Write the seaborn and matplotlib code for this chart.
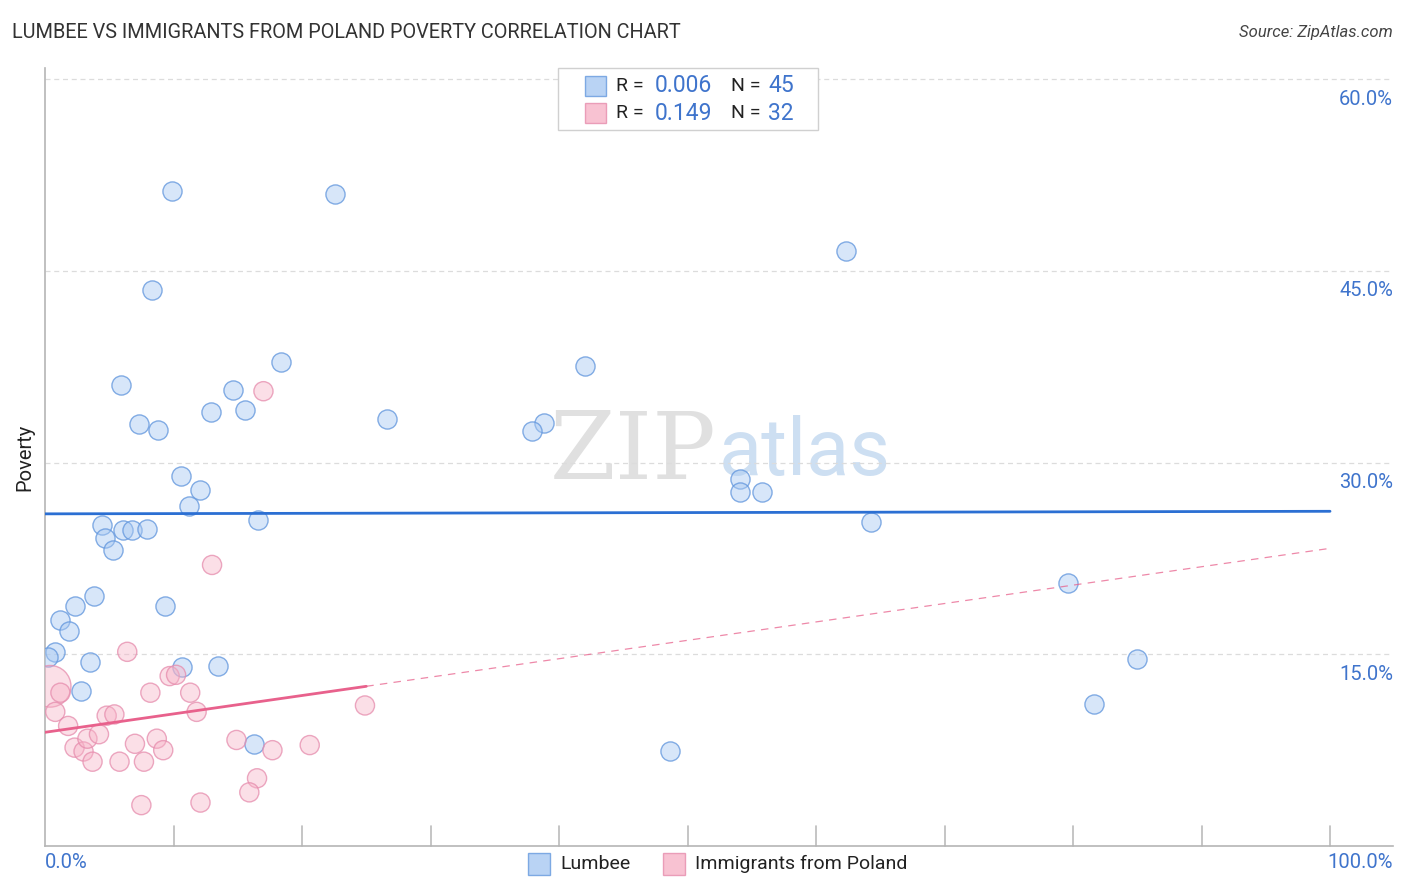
import numpy as np
import pandas as pd
import matplotlib
matplotlib.use("Agg")
import matplotlib.pyplot as plt
from matplotlib.patches import Rectangle
import seaborn as sns

# Lumbee points (x = share %, y = poverty %)
lumbee_x = [9.9, 22.6, 62.3, 8.3, 18.4, 42.0, 5.9, 14.6, 12.9, 15.6, 26.6, 7.3, 8.8, 38.8, 37.9,
            10.6, 54.1, 12.1, 54.1, 55.8, 11.2, 16.6, 64.3, 4.4, 6.1, 6.8, 7.9, 4.7, 5.3, 79.6,
            3.8, 2.3, 9.3, 1.2, 1.9, 0.8, 0.2, 3.5, 10.7, 13.5, 85.0, 2.8, 81.6, 16.3, 48.6]
lumbee_y = [51.25, 51.0, 46.6, 43.5, 37.9, 37.6, 36.1, 35.7, 34.0, 34.1, 33.4, 33.0, 32.6, 33.1, 32.5,
            29.0, 28.75, 27.9, 27.7, 27.7, 26.6, 25.5, 25.4, 25.1, 24.7, 24.7, 24.8, 24.1, 23.2, 20.6,
            19.6, 18.75, 18.8, 17.7, 16.8, 15.2, 14.8, 14.4, 14.0, 14.1, 14.6, 12.1, 11.1, 8.0, 7.4]

# Immigrants from Poland points
poland_x = [0.4, 13.0, 17.0, 6.4, 1.2, 8.2, 9.7, 10.2, 11.3, 0.8, 1.8, 4.8, 5.4, 11.8, 24.9, 2.3,
            3.0, 3.3, 4.2, 3.7, 7.0, 8.7, 9.2, 5.8, 7.7, 14.9, 17.7, 20.6, 16.5, 15.9, 7.5, 12.1]
poland_y = [12.5, 22.0, 35.6, 15.2, 12.0, 12.0, 13.3, 13.4, 12.0, 10.5, 9.4, 10.2, 10.3, 10.5, 11.0, 7.7,
            7.4, 8.4, 8.75, 6.6, 8.0, 8.4, 7.5, 6.6, 6.6, 8.3, 7.5, 7.9, 5.3, 4.2, 3.2, 3.4]
poland_w = [5] + [1] * 31

# trend lines: value at x=0 and x=100
lumbee_trend = [26.0, 26.2]
poland_trend = [8.9, 23.3]
poland_solid_end = 25.0

legend_rows = [("0.006", "45"), ("0.149", "32")]
y_ticks = [15, 30, 45, 60]

blue_fill = (0.66, 0.79, 0.95, 0.45)
blue_edge = (0.40, 0.60, 0.87, 0.8)
blue_line = "#2b6fd3"
pink_fill = (0.97, 0.70, 0.78, 0.42)
pink_edge = (0.90, 0.55, 0.68, 0.75)
pink_line = "#e8618c"
tick_blue = "#3f74cc"

sns.set_style("white")
plt.rcParams["font.family"] = ["Roboto", "DejaVu Sans"]

fig = plt.figure(figsize=(14.06, 8.92), dpi=100)
ax = fig.add_axes([45 / 1406, 1 - 846 / 892, (1393 - 45) / 1406, (846 - 68) / 892])

df_l = pd.DataFrame({"x": lumbee_x, "y": lumbee_y})
df_p = pd.DataFrame({"x": poland_x, "y": poland_y, "w": poland_w})

sns.scatterplot(data=df_l, x="x", y="y", ax=ax, s=190, facecolor=blue_fill, edgecolor=blue_edge,
                linewidth=1.0, zorder=3, legend=False)
sns.scatterplot(data=df_p, x="x", y="y", size="w", sizes=(190, 900), ax=ax, facecolor=pink_fill,
                edgecolor=pink_edge, linewidth=1.0, zorder=3, legend=False)

# trend lines
ax.plot([0, 100], lumbee_trend, color=blue_line, lw=2.0, zorder=4)
slope = (poland_trend[1] - poland_trend[0]) / 100
ax.plot([0, poland_solid_end], [poland_trend[0], poland_trend[0] + slope * poland_solid_end],
        color=pink_line, lw=2.0, zorder=4)
ax.plot([poland_solid_end, 100], [poland_trend[0] + slope * poland_solid_end, poland_trend[1]],
        color=pink_line, lw=0.9, ls=(0, (6, 5)), alpha=0.75, zorder=4)

ax.set_xlim(0, 104.9)
ax.set_ylim(0, 60.9)

for t in y_ticks:
    ax.axhline(t, color="#dcdcdc", lw=0.9, ls=(0, (4, 3)), zorder=1)
    ax.text(1.0, t - 0.8, f"{t:.1f}%", transform=ax.get_yaxis_transform(), ha="right", va="top",
            fontsize=14.5, color=tick_blue)

ax.set_xticks([])
ax.set_yticks([])
for xv in range(10, 101, 10):
    ax.plot([xv, xv], [0, 1.6], color="#bbbbbb", lw=1.2, zorder=2, clip_on=False)

sns.despine(ax=ax, top=True, right=True)
for side in ["left", "bottom"]:
    ax.spines[side].set_color("#b5b5b5")
    ax.spines[side].set_linewidth(1.2)

ax.set_xlabel("")
ax.set_ylabel("Poverty", fontsize=14.5, color="#222222", labelpad=8)

fig.text(45 / 1406, 1 - 863 / 892, "0.0%", ha="left", va="center", fontsize=14.5, color=tick_blue)
fig.text(1393 / 1406, 1 - 863 / 892, "100.0%", ha="right", va="center", fontsize=14.5, color=tick_blue)

# watermark
ax.text(0.498, 0.505, "ZIP", transform=ax.transAxes, fontsize=68, family="DejaVu Serif",
        color="#e0e0e0", ha="right", va="center", zorder=0)
ax.text(0.500, 0.505, "atlas", transform=ax.transAxes, fontsize=57, color="#cddff2",
        ha="left", va="center", zorder=0)

# title and source
fig.text(12 / 1406, 1 - 33 / 892, "LUMBEE VS IMMIGRANTS FROM POLAND POVERTY CORRELATION CHART",
         fontsize=14.3, color="#333333", ha="left", va="center")
fig.text(1393 / 1406, 1 - 33 / 892, "Source: ZipAtlas.com", fontsize=12, color="#444444",
         ha="right", va="center", style="italic")


def fx(px):
    return px / 1406


def fy(py):
    return 1 - py / 892


# top legend box
fig.add_artist(Rectangle((fx(558), fy(130)), fx(818) - fx(558), fy(68) - fy(130),
                         transform=fig.transFigure, facecolor="white", edgecolor="#d0d0d0", lw=1.0))
for i, (r, n) in enumerate(legend_rows):
    yc = 86 + 27 * i
    fc, ec = (blue_fill, blue_edge) if i == 0 else (pink_fill, pink_edge)
    fig.add_artist(Rectangle((fx(585), fy(yc + 10)), fx(606) - fx(585), fy(yc - 10) - fy(yc + 10),
                             transform=fig.transFigure, facecolor=fc[:3], edgecolor=ec[:3], lw=1.0, alpha=0.8))
    fig.text(fx(616), fy(yc), "R = ", fontsize=14, color="#222222", ha="left", va="center")
    fig.text(fx(712), fy(yc), r, fontsize=16.5, color=tick_blue, ha="right", va="center")
    fig.text(fx(731), fy(yc), "N = ", fontsize=14, color="#222222", ha="left", va="center")
    fig.text(fx(768), fy(yc), n, fontsize=16.5, color=tick_blue, ha="left", va="center")

# bottom legend
for px, lab, fc, ec in [(528, "Lumbee", blue_fill, blue_edge),
                        (663, "Immigrants from Poland", pink_fill, pink_edge)]:
    fig.add_artist(Rectangle((fx(px), fy(875)), fx(22), fy(853) - fy(875),
                             transform=fig.transFigure, facecolor=fc[:3], edgecolor=ec[:3], lw=1.0, alpha=0.8))
    fig.text(fx(px + 32), fy(864), lab, fontsize=14, color="#222222", ha="left", va="center")

fig.savefig("out.png", dpi=100)
